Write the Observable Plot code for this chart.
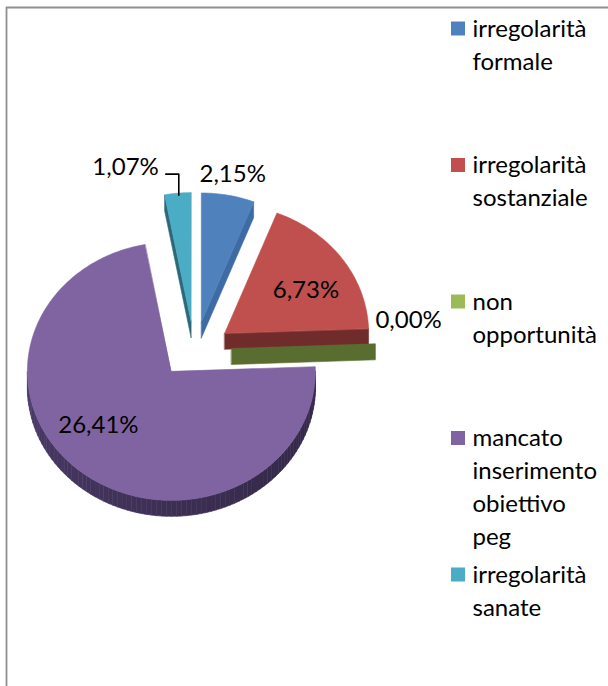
<!DOCTYPE html>
<html><head><meta charset="utf-8">
<script src="https://cdn.jsdelivr.net/npm/d3@7"></script>
<script src="https://cdn.jsdelivr.net/npm/@observablehq/plot@0.6"></script>
<style>
html,body{margin:0;padding:0;background:#fff;overflow:hidden;}
</style></head><body><div id="chart"></div>
<script>
// ---- data ----
const categories = ["irregolarità formale", "irregolarità sostanziale", "non opportunità", "mancato inserimento obiettivo peg", "irregolarità sanate"];
const legendLines = [["irregolarità", "formale"], ["irregolarità", "sostanziale"], ["non", "opportunità"], ["mancato", "inserimento", "obiettivo", "peg"], ["irregolarità", "sanate"]];
const values = [2.15, 6.73, 0.00, 26.41, 1.07];
const valueLabels = ["2,15%", "6,73%", "0,00%", "26,41%", "1,07%"];
const topColors = ["#4F81BD", "#C0504D", "#9BBB59", "#8064A2", "#4BACC6"];
const sideColors = ["#3D6BA3", "#702C2B", "#596D30", "#3B2E52", "#2C6878"];

// ---- layout (geometry computed from the data) ----
const W = 608, H = 686;
const C = [194, 349], R = 144, RY = 129, DEPTH = 16, EX = 37, EY = 28;
const FONT = 24;

const arcs = d3.pie().sort(null).value(d => d)(values);
const pt = (c, a, f = 1) => [c[0] + f * R * Math.sin(a), c[1] - f * RY * Math.cos(a)];
const slices = arcs.map((d, i) => {
  const mid = (d.startAngle + d.endAngle) / 2;
  return {i, a0: d.startAngle, a1: d.endAngle, mid, c: [C[0] + EX * Math.sin(mid), C[1] - EY * Math.cos(mid)]};
});
const arcPts = (c, s, e, dy = 0) => {
  const n = Math.max(2, Math.ceil((e - s) / (Math.PI / 180)));
  return d3.range(n + 1).map(k => { const p = pt(c, s + (e - s) * k / n); return [p[0], p[1] + dy]; });
};

const polys = [];
let pid = 0;
function addPoly(pts, fill) { const id = pid++; pts.forEach(([x, y]) => polys.push({id, x, y, fill})); }

const order = slices.slice().sort((a, b) => a.c[1] - b.c[1]);
for (const s of order) {
  const side = sideColors[s.i];
  const eps = 1e-9;
  const radial = a => { const p = pt(s.c, a); addPoly([s.c, p, [p[0], p[1] + DEPTH], [s.c[0], s.c[1] + DEPTH]], side); };
  if (Math.cos(s.a0 - Math.PI / 2) < -eps) radial(s.a0);
  if (Math.cos(s.a1 + Math.PI / 2) < -eps) radial(s.a1);
  const ws = Math.max(s.a0, Math.PI / 2), we = Math.min(s.a1, 3 * Math.PI / 2);
  if (we > ws) {
    const dark = d3.color(side).darker(0.35), light = d3.color(side).brighter(0.75);
    const n = Math.ceil((we - ws) / (Math.PI / 90));
    for (let k = 0; k < n; k++) {
      const b0 = ws + (we - ws) * k / n, b1 = ws + (we - ws) * (k + 1) / n;
      const t = ((b0 + b1) / 2 - Math.PI / 2) / Math.PI;
      const col = d3.interpolateRgb(dark, light)(Math.pow(t, 1.6));
      const top = arcPts(s.c, b0, b1), bot = arcPts(s.c, b0, b1, DEPTH).reverse();
      addPoly([...top, ...bot], col);
    }
  }
  if (s.a1 > s.a0) addPoly([s.c, ...arcPts(s.c, s.a0, s.a1)], topColors[s.i]);
}

// value labels
const lab = [];
{
  const s0 = slices[0]; const p = pt(s0.c, s0.mid, 1.18); lab.push({x: p[0], y: p[1] + 2, t: valueLabels[0], anchor: "middle"});
  const s1 = slices[1]; const q = pt(s1.c, s1.mid, 0.65); lab.push({x: q[0] + 5, y: q[1] + 6, t: valueLabels[1], anchor: "middle"});
  const s2 = slices[2]; const g = pt(s2.c, s2.a1); lab.push({x: g[0], y: g[1] - 23, t: valueLabels[2], anchor: "start"});
  const s3 = slices[3]; const u = pt(s3.c, s3.mid, 0.6); lab.push({x: u[0] - 19, y: u[1] - 6, t: valueLabels[3], anchor: "middle"});
}
const s4 = slices[4];
const m4 = pt(s4.c, s4.mid);
const leader = [{x: m4[0] + 1, y: m4[1] + 2}, {x: m4[0] + 1, y: m4[1] - 19}, {x: m4[0] - 12, y: m4[1] - 19}];
lab.push({x: m4[0] - 19, y: m4[1] - 26, t: valueLabels[4], anchor: "end"});

// legend
const LX = 451, LS = 14, LY0 = 28.5, LSTEP = 136.5, LLINE = 33;
const legSq = categories.map((c, i) => ({x1: LX, x2: LX + LS, y1: LY0 + i * LSTEP - LS / 2, y2: LY0 + i * LSTEP + LS / 2, fill: topColors[i]}));
const legTxt = legendLines.flatMap((lines, i) => lines.map((t, k) => ({x: LX + 21, y: LY0 + i * LSTEP + k * LLINE, t})));

const chart = Plot.plot({
  width: W, height: H,
  margin: 0,
  x: {domain: [0, W], range: [0, W], axis: null},
  y: {domain: [0, H], range: [0, H], axis: null},
  color: {type: "identity"},
  style: {fontFamily: "Lato, sans-serif", background: "#fff", overflow: "hidden"},
  marks: [
    Plot.ruleX([6], {y1: 7, y2: H, stroke: "#8f8f8f", strokeWidth: 1.8}),
    Plot.ruleY([7], {x1: 6, x2: W, stroke: "#8f8f8f", strokeWidth: 1.8}),
    Plot.line(polys, {x: "x", y: "y", z: "id", fill: "fill", stroke: "fill", strokeWidth: 0.6, curve: "linear-closed"}),
    Plot.line(leader, {x: "x", y: "y", stroke: "#000", strokeWidth: 1.6}),
    Plot.text(lab.filter(d => d.anchor === "middle"), {x: "x", y: "y", text: "t", fontSize: FONT, fill: "#000", textAnchor: "middle"}),
    Plot.text(lab.filter(d => d.anchor === "start"), {x: "x", y: "y", text: "t", fontSize: FONT, fill: "#000", textAnchor: "start"}),
    Plot.text(lab.filter(d => d.anchor === "end"), {x: "x", y: "y", text: "t", fontSize: FONT, fill: "#000", textAnchor: "end"}),
    Plot.rect(legSq, {x1: "x1", x2: "x2", y1: "y1", y2: "y2", fill: "fill"}),
    Plot.text(legTxt, {x: "x", y: "y", text: "t", fontSize: FONT, fill: "#000", textAnchor: "start"})
  ]
});
document.getElementById("chart").appendChild(chart);
</script>
</body></html>
